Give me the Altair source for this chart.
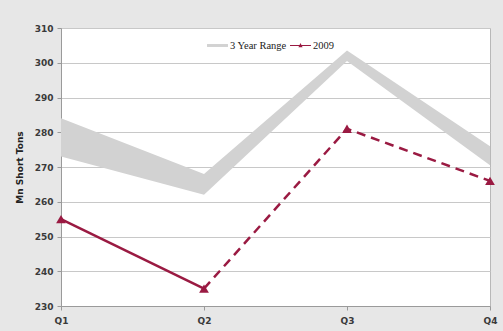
import altair as alt
import pandas as pd

# Quarterly coal production, million short tons
quarters = ["Q1", "Q2", "Q3", "Q4"]
range_low = [273, 262, 300.5, 270.5]
range_high = [284, 268, 303.5, 276]
y2009 = [255, 235, 281, 266]
# 2009: reported quarters drawn solid, estimated quarters dashed
segment_solid = ["Q1", "Q2"]
segment_dashed = ["Q2", "Q3", "Q4"]
series_names = ["3 Year Range", "2009"]
y_ticks = [230, 240, 250, 260, 270, 280, 290, 300, 310]

MAROON = "#9a1a42"
BAND = "#d2d2d2"
LABEL_FONT = "DejaVu Sans"

band_df = pd.DataFrame({"q": quarters, "low": range_low, "high": range_high})
line_df = pd.DataFrame({"q": quarters, "v": y2009})
solid_df = line_df[line_df["q"].isin(segment_solid)]
dashed_df = line_df[line_df["q"].isin(segment_dashed)]
legend_df = pd.DataFrame({"series": series_names, "q": ["Q1", "Q1"], "v": [270, 270]})

x_enc = alt.X(
    "q:N",
    sort=quarters,
    scale=alt.Scale(type="point", padding=0),
    axis=alt.Axis(
        title=None, labelAngle=0, labelFontWeight="bold", labelFontSize=9,
        labelColor="#3a3a3a", labelFont=LABEL_FONT, tickSize=4, tickColor="#9a9a9a",
        domainColor="#9a9a9a", labelPadding=6, grid=False,
    ),
)
y_scale = alt.Scale(domain=[230, 310], nice=False, zero=False)
y_axis = alt.Axis(
    title="Mn Short Tons", titleFontSize=9, titleFontWeight="bold", titleColor="#222222",
    titleFont=LABEL_FONT, titlePadding=10,
    values=y_ticks, labelOverlap=False, labelFontWeight="bold", labelFontSize=9,
    labelColor="#3a3a3a", labelFont=LABEL_FONT, tickSize=4, tickColor="#9a9a9a",
    domainColor="#9a9a9a", labelPadding=4, gridColor="#c8c8c8", gridWidth=1,
)


def y_enc(field):
    return alt.Y(field, scale=y_scale, axis=y_axis)


band = alt.Chart(band_df).mark_area(color=BAND, opacity=1).encode(
    x=x_enc, y=y_enc("low:Q"), y2="high:Q",
)

solid = alt.Chart(solid_df).mark_line(color=MAROON, strokeWidth=2.5).encode(
    x=x_enc, y=y_enc("v:Q")
)
dashed = alt.Chart(dashed_df).mark_line(
    color=MAROON, strokeWidth=2.5, strokeDash=[9, 6]
).encode(x=x_enc, y=y_enc("v:Q"))

markers = alt.Chart(line_df).mark_point(
    shape="triangle-up", filled=True, color=MAROON, size=95, opacity=1
).encode(x=x_enc, y=y_enc("v:Q"))

# Legend entries: a grey bar for the range, a line with a triangle for 2009
rect_path = "M-1,-0.14H1V0.14H-1Z"
line_tri_path = "M-1,-0.05H1V0.05H-1Z M-0.2,0.17L0,-0.24L0.2,0.17Z"
legend_layer = alt.Chart(legend_df).mark_point(filled=True, opacity=0).encode(
    x=x_enc,
    y=y_enc("v:Q"),
    color=alt.Color(
        "series:N",
        scale=alt.Scale(domain=series_names, range=[BAND, MAROON]),
        legend=alt.Legend(
            title=None, orient="none", direction="horizontal",
            legendX=146, legendY=7, symbolSize=440, symbolOpacity=1,
            labelFont="Liberation Serif", labelFontSize=10.5, labelColor="#222222",
            columnPadding=3, labelOffset=2, symbolStrokeWidth=0,
        ),
    ),
    shape=alt.Shape(
        "series:N",
        scale=alt.Scale(domain=series_names, range=[rect_path, line_tri_path]),
        legend=None,
    ),
)

chart = (
    alt.layer(band, legend_layer, solid, dashed, markers)
    .properties(
        width=429, height=278,
        background="#e7e7e7",
        padding={"left": 61, "top": 28, "right": 13, "bottom": 25},
        autosize=alt.AutoSizeParams(type="none"),
    )
    .configure_view(fill="white", stroke="#b8b8b8", strokeWidth=1)
)

chart.save("out.html", embed_options={"renderer": "svg", "actions": False})
